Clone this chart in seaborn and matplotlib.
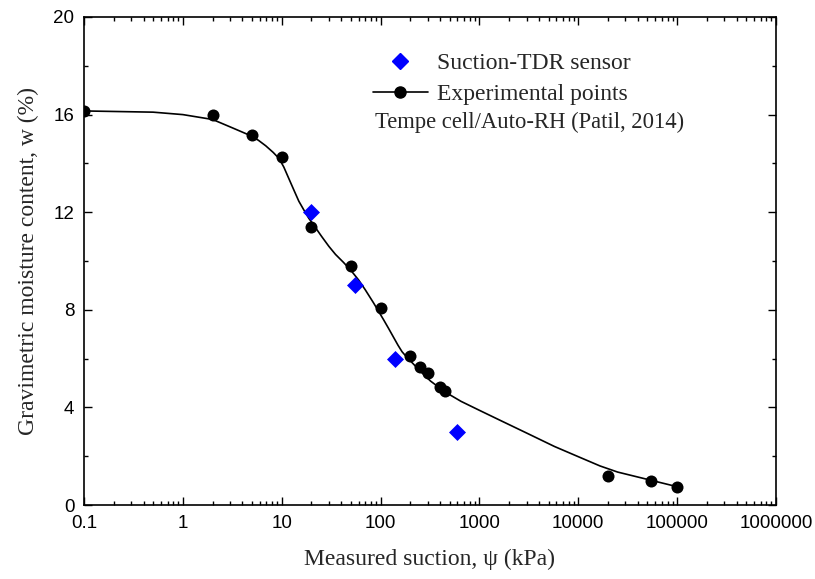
import numpy as np
import matplotlib
matplotlib.use("Agg")
import matplotlib.pyplot as plt
from matplotlib.ticker import FixedLocator, MultipleLocator, FixedFormatter, NullFormatter
from matplotlib.lines import Line2D
import pandas as pd
import seaborn as sns

# experimental points (Tempe cell / Auto-RH)
exp_suction = [0.1, 2, 5, 10, 20, 50, 100, 200, 250, 300, 400, 450, 20000, 55000, 100000]
exp_w = [16.15, 16.0, 15.16, 14.26, 11.4, 9.8, 8.07, 6.1, 5.66, 5.41, 4.84, 4.67, 1.19, 0.98, 0.74]

# suction-TDR sensor readings
tdr_suction = [20, 55, 140, 600]
tdr_w = [12.0, 9.0, 6.0, 3.0]

# fitted curve
fit_suction = [0.1, 0.5, 1, 2, 3.2, 4.7, 5.8, 6.9, 8.2, 9.4, 10.5, 11.8, 13.3, 14.9, 16.7,
               18.8, 21, 25.4, 30, 35, 42, 50, 60, 70, 85, 107, 120, 135, 150, 165, 185,
               210, 250, 320, 450, 650, 1000, 1640, 3000, 5730, 10000, 16600, 25000,
               50000, 100000]
fit_w = [16.15, 16.1, 16.0, 15.8, 15.45, 15.16, 14.95, 14.72, 14.45, 14.2, 13.85, 13.38,
         12.9, 12.45, 12.1, 11.75, 11.48, 11.0, 10.6, 10.27, 9.95, 9.62, 9.22, 8.82, 8.28,
         7.6, 7.25, 6.88, 6.55, 6.28, 6.05, 5.82, 5.5, 5.08, 4.63, 4.25, 3.88, 3.46, 2.95,
         2.4, 1.98, 1.6, 1.35, 1.05, 0.75]

# axis ticks
x_ticks = [0.1, 1, 10, 100, 1000, 10000, 100000, 1000000]
x_tick_labels = ["0.1", "1", "10", "100", "1000", "10000", "100000", "1000000"]
x_minor = [d * m for d in x_ticks[:-1] for m in range(2, 10)]

sns.set_theme(style="ticks")
plt.rcParams.update({
    "xtick.direction": "in", "ytick.direction": "in",
    "xtick.top": True, "ytick.right": True,
    "xtick.major.size": 6, "ytick.major.size": 6,
    "xtick.minor.size": 3, "ytick.minor.size": 3,
    "xtick.major.width": 1.0, "ytick.major.width": 1.0,
    "xtick.minor.width": 1.0, "ytick.minor.width": 1.0,
    "axes.linewidth": 1.2,
    "axes.edgecolor": "black",
})

df_exp = pd.DataFrame({"suction": exp_suction, "w": exp_w})
df_tdr = pd.DataFrame({"suction": tdr_suction, "w": tdr_w})
df_fit = pd.DataFrame({"suction": fit_suction, "w": fit_w})

fig = plt.figure(figsize=(8.15, 5.79), dpi=100)
ax = fig.add_axes([84 / 815, 1 - 505 / 579, 692 / 815, 488 / 579])

sns.lineplot(data=df_fit, x="suction", y="w", ax=ax, color="black", lw=1.2,
             sort=False, estimator=None, zorder=2)
sns.scatterplot(data=df_exp, x="suction", y="w", ax=ax, color="black", marker="o",
                s=75, edgecolor="black", linewidth=0, zorder=3)
sns.scatterplot(data=df_tdr, x="suction", y="w", ax=ax, color="#0000ff", marker="D",
                s=75, edgecolor="#0000ff", linewidth=0, zorder=4)

ax.set_xscale("log")
ax.set_xlim(0.1, 1e6)
ax.set_ylim(0, 20)
ax.xaxis.set_major_locator(FixedLocator(x_ticks))
ax.xaxis.set_major_formatter(FixedFormatter(x_tick_labels))
ax.xaxis.set_minor_locator(FixedLocator(x_minor))
ax.xaxis.set_minor_formatter(NullFormatter())
ax.yaxis.set_major_locator(MultipleLocator(4))
ax.yaxis.set_minor_locator(MultipleLocator(2))

ax.tick_params(axis="both", which="both", colors="black", labelsize=13.5, pad=7)

serif = "Liberation Serif"
ax.set_xlabel("Measured suction, \u03c8 (kPa)", family=serif, fontsize=17, labelpad=12)
ax.set_ylabel("Gravimetric moisture content, w (%)", family=serif, fontsize=17, labelpad=10)

handles = [
    Line2D([], [], ls="none", marker="D", color="#0000ff", markersize=8),
    Line2D([], [], ls="-", marker="o", color="black", lw=1.2, markersize=8),
]
leg = ax.legend(handles, ["Suction-TDR sensor", "Experimental points"],
                loc="upper left", bbox_to_anchor=(0.418, 0.927), frameon=False,
                prop={"family": serif, "size": 17}, handlelength=2.3,
                handletextpad=0.4, labelspacing=0.4, borderpad=0, borderaxespad=0)
ax.text(0.4205, 0.785, "Tempe cell/Auto-RH (Patil, 2014)", transform=ax.transAxes,
        family=serif, fontsize=16.3, va="center", ha="left")

for lab in ax.get_xticklabels() + ax.get_yticklabels():
    lab.set_fontfamily("Liberation Sans")

fig.savefig("out.png", dpi=100)
